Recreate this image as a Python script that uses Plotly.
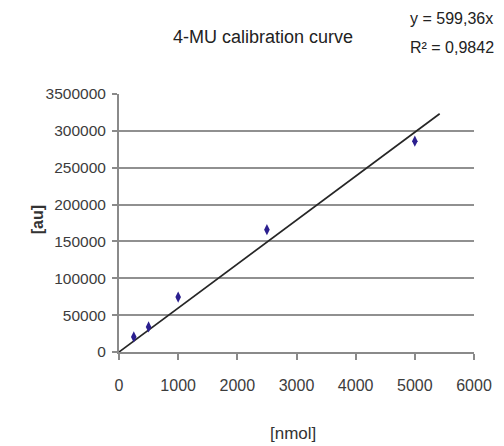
import plotly.graph_objects as go

# Data
x_nmol = [250, 500, 1000, 2500, 5000]
y_au = [20400, 34000, 74500, 166000, 286000]

# Linear trendline through the origin (least squares on the data)
slope = sum(a * b for a, b in zip(x_nmol, y_au)) / sum(a * a for a in x_nmol)
trend_x = [0, 5420]
trend_y = [slope * v for v in trend_x]

y_tickvals = [0, 50000, 100000, 150000, 200000, 250000, 300000, 350000]
y_ticktext = ["0", "50000", "100000", "150000", "200000", "250000", "300000", "3500000"]
x_tickvals = [0, 1000, 2000, 3000, 4000, 5000, 6000]
x_ticktext = ["0", "1000", "2000", "3000", "4000", "5000", "6000"]

FONT = "Liberation Sans, Arial, sans-serif"

fig = go.Figure()
fig.add_trace(go.Scatter(x=trend_x, y=trend_y, mode="lines",
                         line=dict(color="#262626", width=1.7), showlegend=False))
fig.add_trace(go.Scatter(x=x_nmol, y=y_au, mode="markers",
                         marker=dict(symbol="diamond-tall", size=8, color="#2b1f8f"),
                         showlegend=False))

# page body has an 8px margin; figure sized to fit the 504x446 window
fig.update_layout(
    width=496, height=438,
    margin=dict(l=111, r=20, t=86, b=94),
    paper_bgcolor="white", plot_bgcolor="white",
    font=dict(family=FONT, color="#444", size=15),
    xaxis=dict(range=[0, 6000], tickvals=x_tickvals, ticktext=x_ticktext,
               showgrid=False, zeroline=False, showline=True, linecolor="#8a8a8a", linewidth=2,
               ticks="outside", ticklen=6, tickcolor="#8a8a8a", tickwidth=2,
               ticklabelstandoff=12, ticklabeloverflow="allow",
               tickfont=dict(size=16, color="#3c3c3c", family=FONT)),
    yaxis=dict(range=[0, 350000], tickvals=y_tickvals, ticktext=y_ticktext,
               showgrid=True, gridcolor="#909090", gridwidth=2, zeroline=False,
               showline=True, linecolor="#8a8a8a", linewidth=2,
               ticks="outside", ticklen=5, tickcolor="#8a8a8a", tickwidth=2,
               ticklabelstandoff=3, ticklabeloverflow="allow",
               tickfont=dict(size=15.5, color="#3c3c3c", family=FONT)),
)

def px_x(p):
    return (p - 119) / 365

def px_y(p):
    return (352 - p) / 258

fig.add_annotation(text="4-MU calibration curve", xref="paper", yref="paper",
                   x=px_x(267), y=px_y(37), showarrow=False,
                   xanchor="center", yanchor="middle",
                   font=dict(size=18, color="#222", family=FONT))
fig.add_annotation(text="y = 599,36x", xref="paper", yref="paper",
                   x=px_x(416), y=px_y(19), showarrow=False,
                   xanchor="left", yanchor="middle", align="left",
                   font=dict(size=16, color="#222", family=FONT))
fig.add_annotation(text="R² = 0,9842", xref="paper", yref="paper",
                   x=px_x(416), y=px_y(48), showarrow=False,
                   xanchor="left", yanchor="middle", align="left",
                   font=dict(size=16, color="#222", family=FONT))
fig.add_annotation(text="<b>[au]</b>", xref="paper", yref="paper",
                   x=px_x(35), y=px_y(220), showarrow=False,
                   textangle=-90, xanchor="center", yanchor="middle",
                   font=dict(size=16, color="#333", family=FONT))
fig.add_annotation(text="[nmol]", xref="paper", yref="paper",
                   x=px_x(298), y=px_y(433), showarrow=False,
                   xanchor="center", yanchor="middle",
                   font=dict(size=17, color="#333", family=FONT))

fig.write_html("out.html")
